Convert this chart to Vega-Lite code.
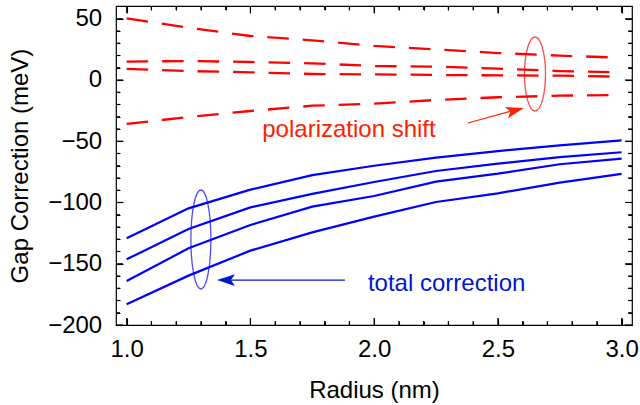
{
  "$schema": "https://vega.github.io/schema/vega-lite/v6.json",
  "width": 516,
  "height": 319,
  "autosize": {"type": "none"},
  "padding": {"left": 116, "top": 6, "right": 8, "bottom": 80},
  "background": "#ffffff",
  "config": {
    "font": "Liberation Sans",
    "view": {"stroke": "#000000", "strokeWidth": 1.2},
    "axis": {
      "domain": false,
      "grid": false,
      "ticks": true,
      "tickColor": "#000000",
      "tickOpacity": 1,
      "tickWidth": 1.1,
      "labelFont": "Liberation Sans",
      "labelFontSize": 24,
      "labelColor": "#000000",
      "labelOverlap": false,
      "labelFlush": false,
      "titleFont": "Liberation Sans",
      "titleFontSize": 24,
      "titleFontWeight": "normal",
      "titleColor": "#000000"
    }
  },
  "datasets": {
    "curves": [
      {"series": "p1", "kind": "pol", "r": 1.0, "gap": 50.3},
      {"series": "p1", "kind": "pol", "r": 1.25, "gap": 42.7},
      {"series": "p1", "kind": "pol", "r": 1.5, "gap": 35.9},
      {"series": "p1", "kind": "pol", "r": 1.75, "gap": 32.4},
      {"series": "p1", "kind": "pol", "r": 2.0, "gap": 27.8},
      {"series": "p1", "kind": "pol", "r": 2.25, "gap": 25.0},
      {"series": "p1", "kind": "pol", "r": 2.5, "gap": 22.0},
      {"series": "p1", "kind": "pol", "r": 2.75, "gap": 19.9},
      {"series": "p1", "kind": "pol", "r": 3.0, "gap": 18.2},
      {"series": "p2", "kind": "pol", "r": 1.0, "gap": 15.0},
      {"series": "p2", "kind": "pol", "r": 1.25, "gap": 15.5},
      {"series": "p2", "kind": "pol", "r": 1.5, "gap": 14.7},
      {"series": "p2", "kind": "pol", "r": 1.75, "gap": 13.6},
      {"series": "p2", "kind": "pol", "r": 2.0, "gap": 11.4},
      {"series": "p2", "kind": "pol", "r": 2.25, "gap": 10.9},
      {"series": "p2", "kind": "pol", "r": 2.5, "gap": 9.3},
      {"series": "p2", "kind": "pol", "r": 2.75, "gap": 7.3},
      {"series": "p2", "kind": "pol", "r": 3.0, "gap": 6.3},
      {"series": "p3", "kind": "pol", "r": 1.0, "gap": 9.0},
      {"series": "p3", "kind": "pol", "r": 1.25, "gap": 7.3},
      {"series": "p3", "kind": "pol", "r": 1.5, "gap": 6.3},
      {"series": "p3", "kind": "pol", "r": 1.75, "gap": 4.9},
      {"series": "p3", "kind": "pol", "r": 2.0, "gap": 4.6},
      {"series": "p3", "kind": "pol", "r": 2.25, "gap": 4.1},
      {"series": "p3", "kind": "pol", "r": 2.5, "gap": 3.8},
      {"series": "p3", "kind": "pol", "r": 2.75, "gap": 3.5},
      {"series": "p3", "kind": "pol", "r": 3.0, "gap": 2.7},
      {"series": "p4", "kind": "pol", "r": 1.0, "gap": -35.9},
      {"series": "p4", "kind": "pol", "r": 1.25, "gap": -30.2},
      {"series": "p4", "kind": "pol", "r": 1.5, "gap": -25.3},
      {"series": "p4", "kind": "pol", "r": 1.75, "gap": -21.0},
      {"series": "p4", "kind": "pol", "r": 2.0, "gap": -19.3},
      {"series": "p4", "kind": "pol", "r": 2.25, "gap": -16.3},
      {"series": "p4", "kind": "pol", "r": 2.5, "gap": -14.1},
      {"series": "p4", "kind": "pol", "r": 2.75, "gap": -12.8},
      {"series": "p4", "kind": "pol", "r": 3.0, "gap": -12.2},
      {"series": "t1", "kind": "tot", "r": 1.0, "gap": -129.2},
      {"series": "t1", "kind": "tot", "r": 1.25, "gap": -104.8},
      {"series": "t1", "kind": "tot", "r": 1.5, "gap": -89.5},
      {"series": "t1", "kind": "tot", "r": 1.75, "gap": -77.6},
      {"series": "t1", "kind": "tot", "r": 2.0, "gap": -70.0},
      {"series": "t1", "kind": "tot", "r": 2.25, "gap": -63.4},
      {"series": "t1", "kind": "tot", "r": 2.5, "gap": -58.0},
      {"series": "t1", "kind": "tot", "r": 2.75, "gap": -53.3},
      {"series": "t1", "kind": "tot", "r": 3.0, "gap": -49.3},
      {"series": "t2", "kind": "tot", "r": 1.0, "gap": -146.4},
      {"series": "t2", "kind": "tot", "r": 1.25, "gap": -121.6},
      {"series": "t2", "kind": "tot", "r": 1.5, "gap": -104.0},
      {"series": "t2", "kind": "tot", "r": 1.75, "gap": -93.0},
      {"series": "t2", "kind": "tot", "r": 2.0, "gap": -83.3},
      {"series": "t2", "kind": "tot", "r": 2.25, "gap": -74.3},
      {"series": "t2", "kind": "tot", "r": 2.5, "gap": -68.3},
      {"series": "t2", "kind": "tot", "r": 2.75, "gap": -62.9},
      {"series": "t2", "kind": "tot", "r": 3.0, "gap": -59.0},
      {"series": "t3", "kind": "tot", "r": 1.0, "gap": -164.1},
      {"series": "t3", "kind": "tot", "r": 1.25, "gap": -137.4},
      {"series": "t3", "kind": "tot", "r": 1.5, "gap": -118.4},
      {"series": "t3", "kind": "tot", "r": 1.75, "gap": -103.4},
      {"series": "t3", "kind": "tot", "r": 2.0, "gap": -94.7},
      {"series": "t3", "kind": "tot", "r": 2.25, "gap": -83.0},
      {"series": "t3", "kind": "tot", "r": 2.5, "gap": -76.5},
      {"series": "t3", "kind": "tot", "r": 2.75, "gap": -68.8},
      {"series": "t3", "kind": "tot", "r": 3.0, "gap": -64.2},
      {"series": "t4", "kind": "tot", "r": 1.0, "gap": -183.1},
      {"series": "t4", "kind": "tot", "r": 1.25, "gap": -159.7},
      {"series": "t4", "kind": "tot", "r": 1.5, "gap": -139.3},
      {"series": "t4", "kind": "tot", "r": 1.75, "gap": -124.4},
      {"series": "t4", "kind": "tot", "r": 2.0, "gap": -111.5},
      {"series": "t4", "kind": "tot", "r": 2.25, "gap": -99.6},
      {"series": "t4", "kind": "tot", "r": 2.5, "gap": -92.5},
      {"series": "t4", "kind": "tot", "r": 2.75, "gap": -83.8},
      {"series": "t4", "kind": "tot", "r": 3.0, "gap": -76.7}
    ],
    "xticks": [
      {"v": 1.0, "cls": "major"}, {"v": 1.1, "cls": "minor"}, {"v": 1.2, "cls": "minor"}, {"v": 1.3, "cls": "minor"}, {"v": 1.4, "cls": "minor"},
      {"v": 1.5, "cls": "major"}, {"v": 1.6, "cls": "minor"}, {"v": 1.7, "cls": "minor"}, {"v": 1.8, "cls": "minor"}, {"v": 1.9, "cls": "minor"},
      {"v": 2.0, "cls": "major"}, {"v": 2.1, "cls": "minor"}, {"v": 2.2, "cls": "minor"}, {"v": 2.3, "cls": "minor"}, {"v": 2.4, "cls": "minor"},
      {"v": 2.5, "cls": "major"}, {"v": 2.6, "cls": "minor"}, {"v": 2.7, "cls": "minor"}, {"v": 2.8, "cls": "minor"}, {"v": 2.9, "cls": "minor"},
      {"v": 3.0, "cls": "major"}
    ],
    "yticks": [
      {"v": -200, "cls": "major"}, {"v": -190, "cls": "minor"}, {"v": -180, "cls": "minor"}, {"v": -170, "cls": "minor"}, {"v": -160, "cls": "minor"},
      {"v": -150, "cls": "major"}, {"v": -140, "cls": "minor"}, {"v": -130, "cls": "minor"}, {"v": -120, "cls": "minor"}, {"v": -110, "cls": "minor"},
      {"v": -100, "cls": "major"}, {"v": -90, "cls": "minor"}, {"v": -80, "cls": "minor"}, {"v": -70, "cls": "minor"}, {"v": -60, "cls": "minor"},
      {"v": -50, "cls": "major"}, {"v": -40, "cls": "minor"}, {"v": -30, "cls": "minor"}, {"v": -20, "cls": "minor"}, {"v": -10, "cls": "minor"},
      {"v": 0, "cls": "major"}, {"v": 10, "cls": "minor"}, {"v": 20, "cls": "minor"}, {"v": 30, "cls": "minor"}, {"v": 40, "cls": "minor"},
      {"v": 50, "cls": "major"}
    ],
    "arrows": [
      {"kind": "pol", "r": 2.379, "gap": -35.1, "r2": 2.59, "gap2": -23.3},
      {"kind": "tot", "r": 1.882, "gap": -163.3, "r2": 1.38, "gap2": -163.3}
    ],
    "heads": [
      {"kind": "pol", "r": 2.605, "gap": -22.9},
      {"kind": "tot", "r": 1.365, "gap": -163.3}
    ],
    "labels": [
      {"kind": "pol", "r": 1.548, "gap": -46.3, "text": "polarization shift"},
      {"kind": "tot", "r": 1.975, "gap": -172.0, "text": "total correction"}
    ],
    "ellipsePol": [{"r": 2.65, "gap": 4.9}],
    "ellipseTot": [{"r": 1.3, "gap": -130.2}]
  },
  "layer": [
    {
      "mark": {"type": "rule", "color": "#000000", "strokeWidth": 1.2},
      "encoding": {
        "y": {"datum": 0, "type": "quantitative", "scale": {"domain": [-200, 60.4], "nice": false, "zero": false}, "axis": null}
      }
    },
    {
      "data": {"name": "xticks"},
      "mark": {"type": "tick", "orient": "vertical", "color": "#000000", "thickness": 1.1, "opacity": 1, "clip": true},
      "encoding": {
        "x": {"field": "v", "type": "quantitative", "scale": {"domain": [0.957, 3.042], "nice": false, "zero": false}, "axis": null},
        "y": {"datum": -200, "type": "quantitative", "scale": {"domain": [-200, 60.4], "nice": false, "zero": false}, "axis": null},
        "size": {"field": "cls", "type": "ordinal", "scale": {"domain": ["major", "minor"], "range": [14, 8]}, "legend": null}
      }
    },
    {
      "data": {"name": "xticks"},
      "mark": {"type": "tick", "orient": "vertical", "color": "#000000", "thickness": 1.1, "opacity": 1, "clip": true},
      "encoding": {
        "x": {"field": "v", "type": "quantitative", "scale": {"domain": [0.957, 3.042], "nice": false, "zero": false}, "axis": null},
        "y": {"datum": 60.4, "type": "quantitative", "scale": {"domain": [-200, 60.4], "nice": false, "zero": false}, "axis": null},
        "size": {"field": "cls", "type": "ordinal", "scale": {"domain": ["major", "minor"], "range": [14, 8]}, "legend": null}
      }
    },
    {
      "data": {"name": "yticks"},
      "mark": {"type": "tick", "orient": "horizontal", "color": "#000000", "thickness": 1.1, "opacity": 1, "clip": true},
      "encoding": {
        "x": {"datum": 0.957, "type": "quantitative", "scale": {"domain": [0.957, 3.042], "nice": false, "zero": false}, "axis": null},
        "y": {"field": "v", "type": "quantitative", "scale": {"domain": [-200, 60.4], "nice": false, "zero": false}, "axis": null},
        "size": {"field": "cls", "type": "ordinal", "scale": {"domain": ["major", "minor"], "range": [14, 8]}, "legend": null}
      }
    },
    {
      "data": {"name": "yticks"},
      "mark": {"type": "tick", "orient": "horizontal", "color": "#000000", "thickness": 1.1, "opacity": 1, "clip": true},
      "encoding": {
        "x": {"datum": 3.042, "type": "quantitative", "scale": {"domain": [0.957, 3.042], "nice": false, "zero": false}, "axis": null},
        "y": {"field": "v", "type": "quantitative", "scale": {"domain": [-200, 60.4], "nice": false, "zero": false}, "axis": null},
        "size": {"field": "cls", "type": "ordinal", "scale": {"domain": ["major", "minor"], "range": [14, 8]}, "legend": null}
      }
    },
    {
      "data": {"name": "curves"},
      "transform": [{"filter": "datum.kind === 'pol'"}],
      "mark": {"type": "line", "color": "#ff0000", "strokeWidth": 2.3, "strokeDash": [21.5, 14]},
      "encoding": {
        "x": {
          "field": "r", "type": "quantitative",
          "scale": {"domain": [0.957, 3.042], "nice": false, "zero": false},
          "axis": {
            "orient": "bottom",
            "values": [1, 1.5, 2, 2.5, 3],
            "format": ".1f",
            "offset": -7,
            "tickSize": 7,
            "labelPadding": 12.5,
            "title": "Radius (nm)",
            "titleBaseline": "alphabetic",
            "titleY": 79
          }
        },
        "y": {
          "field": "gap", "type": "quantitative",
          "scale": {"domain": [-200, 60.4], "nice": false, "zero": false},
          "axis": {
            "orient": "left",
            "values": [-200, -150, -100, -50, 0, 50],
            "format": "d",
            "offset": -7,
            "tickSize": 7,
            "labelPadding": 14.3,
            "title": "Gap Correction (meV)",
            "titleBaseline": "alphabetic",
            "titleX": -96
          }
        },
        "detail": {"field": "series", "type": "nominal"}
      }
    },
    {
      "data": {"name": "curves"},
      "transform": [{"filter": "datum.kind === 'tot'"}],
      "mark": {"type": "line", "color": "#0000ff", "strokeWidth": 2.2},
      "encoding": {
        "x": {
          "field": "r", "type": "quantitative",
          "scale": {"domain": [0.957, 3.042], "nice": false, "zero": false},
          "axis": {
            "orient": "bottom",
            "values": [1.1, 1.2, 1.3, 1.4, 1.6, 1.7, 1.8, 1.9, 2.1, 2.2, 2.3, 2.4, 2.6, 2.7, 2.8, 2.9],
            "labels": false,
            "offset": -4,
            "tickSize": 4,
            "title": null
          }
        },
        "y": {
          "field": "gap", "type": "quantitative",
          "scale": {"domain": [-200, 60.4], "nice": false, "zero": false},
          "axis": {
            "orient": "left",
            "values": [-190, -180, -170, -160, -140, -130, -120, -110, -90, -80, -70, -60, -40, -30, -20, -10, 10, 20, 30, 40],
            "labels": false,
            "offset": -4,
            "tickSize": 4,
            "title": null
          }
        },
        "detail": {"field": "series", "type": "nominal"}
      }
    },
    {
      "data": {"name": "ellipsePol"},
      "mark": {
        "type": "point", "filled": false, "stroke": "#ff0000", "strokeWidth": 1.3, "size": 5476,
        "shape": "M0,-1C0.157,-1,0.284,-0.552,0.284,0C0.284,0.552,0.157,1,0,1C-0.157,1,-0.284,0.552,-0.284,0C-0.284,-0.552,-0.157,-1,0,-1Z"
      },
      "encoding": {
        "x": {
          "field": "r", "type": "quantitative",
          "scale": {"domain": [0.957, 3.042], "nice": false, "zero": false},
          "axis": {"orient": "top", "values": [1, 1.5, 2, 2.5, 3], "labels": false, "offset": -7, "tickSize": 7, "title": null}
        },
        "y": {
          "field": "gap", "type": "quantitative",
          "scale": {"domain": [-200, 60.4], "nice": false, "zero": false},
          "axis": {"orient": "right", "values": [-200, -150, -100, -50, 0, 50], "labels": false, "offset": -7, "tickSize": 7, "title": null}
        }
      }
    },
    {
      "data": {"name": "ellipseTot"},
      "mark": {
        "type": "point", "filled": false, "stroke": "#0000ff", "strokeWidth": 1.3, "size": 9801,
        "shape": "M0,-1C0.112,-1,0.202,-0.552,0.202,0C0.202,0.552,0.112,1,0,1C-0.112,1,-0.202,0.552,-0.202,0C-0.202,-0.552,-0.112,-1,0,-1Z"
      },
      "encoding": {
        "x": {
          "field": "r", "type": "quantitative",
          "scale": {"domain": [0.957, 3.042], "nice": false, "zero": false},
          "axis": {"orient": "top", "values": [1.1, 1.2, 1.3, 1.4, 1.6, 1.7, 1.8, 1.9, 2.1, 2.2, 2.3, 2.4, 2.6, 2.7, 2.8, 2.9], "labels": false, "offset": -4, "tickSize": 4, "title": null}
        },
        "y": {
          "field": "gap", "type": "quantitative",
          "scale": {"domain": [-200, 60.4], "nice": false, "zero": false},
          "axis": {"orient": "right", "values": [-190, -180, -170, -160, -140, -130, -120, -110, -90, -80, -70, -60, -40, -30, -20, -10, 10, 20, 30, 40], "labels": false, "offset": -4, "tickSize": 4, "title": null}
        }
      }
    },
    {
      "data": {"name": "arrows"},
      "mark": {"type": "rule", "strokeWidth": 1.2},
      "encoding": {
        "x": {"field": "r", "type": "quantitative", "scale": {"domain": [0.957, 3.042], "nice": false, "zero": false}, "axis": null},
        "y": {"field": "gap", "type": "quantitative", "scale": {"domain": [-200, 60.4], "nice": false, "zero": false}, "axis": null},
        "x2": {"field": "r2"},
        "y2": {"field": "gap2"},
        "color": {"field": "kind", "type": "nominal", "scale": {"domain": ["pol", "tot"], "range": ["#ff2000", "#0018cc"]}, "legend": null}
      }
    },
    {
      "data": {"name": "heads"},
      "mark": {
        "type": "point", "filled": true, "opacity": 1, "strokeWidth": 0, "size": 324,
        "shape": "M0,0L-2,-0.65L-1.55,0L-2,0.65Z"
      },
      "encoding": {
        "x": {"field": "r", "type": "quantitative", "scale": {"domain": [0.957, 3.042], "nice": false, "zero": false}, "axis": null},
        "y": {"field": "gap", "type": "quantitative", "scale": {"domain": [-200, 60.4], "nice": false, "zero": false}, "axis": null},
        "angle": {"field": "kind", "type": "nominal", "scale": {"domain": ["pol", "tot"], "range": [345, 180]}, "legend": null},
        "color": {"field": "kind", "type": "nominal", "scale": {"domain": ["pol", "tot"], "range": ["#ff2000", "#0018cc"]}, "legend": null}
      }
    },
    {
      "data": {"name": "labels"},
      "mark": {"type": "text", "align": "left", "baseline": "alphabetic", "font": "Liberation Sans", "fontSize": 24},
      "encoding": {
        "x": {"field": "r", "type": "quantitative", "scale": {"domain": [0.957, 3.042], "nice": false, "zero": false}, "axis": null},
        "y": {"field": "gap", "type": "quantitative", "scale": {"domain": [-200, 60.4], "nice": false, "zero": false}, "axis": null},
        "text": {"field": "text"},
        "color": {"field": "kind", "type": "nominal", "scale": {"domain": ["pol", "tot"], "range": ["#ff0000", "#0000ff"]}, "legend": null}
      }
    }
  ],
  "resolve": {"axis": {"x": "independent", "y": "independent"}}
}
